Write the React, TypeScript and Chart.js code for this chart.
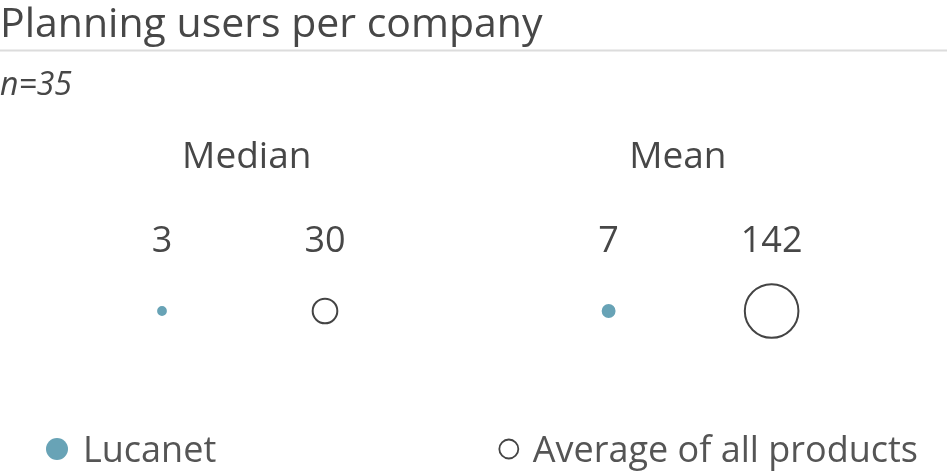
import React, { useEffect, useRef } from "react";
import { Chart, registerables } from "chart.js";

Chart.register(...registerables);

const TITLE = "Planning users per company";
const SUBTITLE = "n=35";
const groups = ["Median", "Mean"];
const seriesNames = ["Lucanet", "Average of all products"];
const lucanetValues = [3, 7];
const allProductsValues = [30, 142];

const FONT = "'Open Sans', 'Noto Sans', sans-serif";
const TEXT = "#474747";
const TEAL = "#68a3b6";
const GROUP_STEP = 2.74;
const HEADER_X = [0.52, 3.165];
const R_SCALE = 2.25;
const BORDER = 2;
const UNIT_PX = 163;
const X0_PX = 162;
const Y0_PX = 311;
const W = 947;
const H = 472;

const xFor = (g: number, s: number) => g * GROUP_STEP + s;
const rFor = (v: number) => R_SCALE * Math.sqrt(v);

const textPlugin = {
  id: "textPlugin",
  afterDraw(chart: any) {
    const ctx = chart.ctx;
    const xs = chart.scales.x;
    ctx.save();
    ctx.fillStyle = TEXT;
    ctx.textBaseline = "alphabetic";
    ctx.textAlign = "left";
    ctx.font = `41px ${FONT}`;
    ctx.fillText(TITLE, 0, 37);
    ctx.strokeStyle = "#dcdcdc";
    ctx.lineWidth = 2;
    ctx.beginPath();
    ctx.moveTo(0, 50.5);
    ctx.lineTo(chart.width, 50.5);
    ctx.stroke();
    ctx.font = `italic 32px ${FONT}`;
    ctx.fillText(SUBTITLE, 0, 95);
    ctx.textAlign = "center";
    ctx.font = `37px ${FONT}`;
    groups.forEach((g, i) => {
      ctx.fillText(g, xs.getPixelForValue(HEADER_X[i]), 168);
    });
    ctx.font = `36px ${FONT}`;
    groups.forEach((g, i) => {
      ctx.fillText(String(lucanetValues[i]), xs.getPixelForValue(xFor(i, 0)), 252);
      ctx.fillText(String(allProductsValues[i]), xs.getPixelForValue(xFor(i, 1)), 252);
    });
    // legend
    ctx.font = `36px ${FONT}`;
    ctx.textAlign = "left";
    ctx.beginPath();
    ctx.fillStyle = TEAL;
    ctx.arc(57, 449, 11, 0, Math.PI * 2);
    ctx.fill();
    ctx.fillStyle = "#555555";
    ctx.fillText(seriesNames[0], 83, 462);
    const w2 = ctx.measureText(seriesNames[1]).width;
    const tx = 918 - w2;
    ctx.fillText(seriesNames[1], tx, 462);
    ctx.beginPath();
    ctx.strokeStyle = "#444444";
    ctx.lineWidth = 1.8;
    ctx.arc(tx - 24, 449, 9.5, 0, Math.PI * 2);
    ctx.stroke();
    ctx.restore();
  },
};

export default function App() {
  const ref = useRef<HTMLCanvasElement>(null);
  useEffect(() => {
    // Chart.js pads the chart area by the largest bubble's overflow (radius + border)
    const maxR = Math.max(...lucanetValues.map(rFor), ...allProductsValues.map(rFor));
    const P = maxR + BORDER;
    const xMin = -(X0_PX - P) / UNIT_PX;
    const xMax = (W - P - X0_PX) / UNIT_PX;
    const areaH = H - 2 * P;
    const yMax = 1;
    const yMin = 1 - areaH / (Y0_PX - P);
    const chart = new Chart(ref.current!, {
      type: "bubble",
      data: {
        datasets: [
          {
            label: seriesNames[0],
            data: lucanetValues.map((v, i) => ({ x: xFor(i, 0), y: 0, r: rFor(v) })),
            backgroundColor: TEAL,
            borderColor: TEAL,
            borderWidth: BORDER,
          },
          {
            label: seriesNames[1],
            data: allProductsValues.map((v, i) => ({ x: xFor(i, 1), y: 0, r: rFor(v) })),
            backgroundColor: "rgba(255,255,255,0)",
            borderColor: "#444444",
            borderWidth: BORDER,
          },
        ],
      },
      options: {
        animation: false,
        responsive: false,
        layout: { padding: 0 },
        plugins: { legend: { display: false }, tooltip: { enabled: false }, title: { display: false } },
        scales: {
          x: { type: "linear", display: false, min: xMin, max: xMax },
          y: { type: "linear", display: false, min: yMin, max: yMax },
        },
      },
      plugins: [textPlugin],
    });
    return () => chart.destroy();
  }, []);
  return (
    <div style={{ position: "absolute", left: 0, top: 0, width: W, height: H, background: "#fff" }}>
      <canvas ref={ref} width={W} height={H} />
    </div>
  );
}
